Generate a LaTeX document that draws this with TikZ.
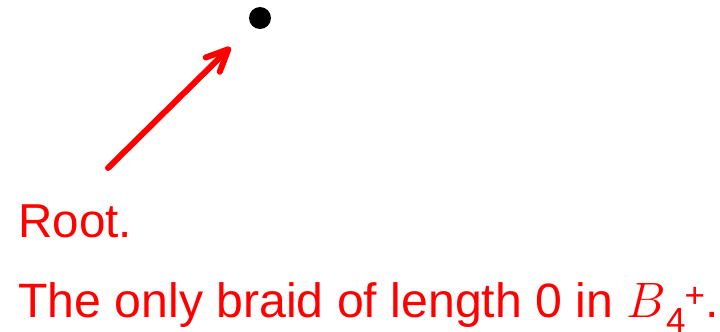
\documentclass[tikz,border=0pt]{standalone}
\usepackage{amsmath}
\usepackage{fontspec}
\setmainfont{Liberation Sans}
\usetikzlibrary{arrows.meta,positioning}
\definecolor{note}{HTML}{FF0000}
\definecolor{ink}{HTML}{000000}
\newcommand{\scriptsans}[1]{\mbox{\fontsize{17.5}{18}\selectfont #1}}
\tikzset{
  vertex/.style={circle,fill=ink,inner sep=0pt,minimum size=11pt},
  notetext/.style={text=note,anchor=base west,inner sep=0pt,font=\fontsize{23.8}{28}\selectfont},
  pointer/.style={-{Straight Barb[length=11pt,width=10pt,round]},line width=3pt,line cap=round,draw=note}
}
\begin{document}
\begin{tikzpicture}[x=0.5pt,y=-0.5pt]
  \useasboundingbox (0,0) rectangle (720,332);
  \node[vertex] (root) at (260,18) {};
  \node[notetext] (label) at (18,237) {Root.};
  \node[notetext,font=\fontsize{24.1}{28}\selectfont] (caption) at (18,318) {The only braid of length 0 in
    $B$\raisebox{-7.5pt}{\scriptsans{4}}\hspace{-0.5pt}\raisebox{5.5pt}{\scriptsans{+}}.};
  \coordinate (tail) at (108,168);
  \draw[pointer,shorten >=15pt] (tail) -- (root);
\end{tikzpicture}
\end{document}
